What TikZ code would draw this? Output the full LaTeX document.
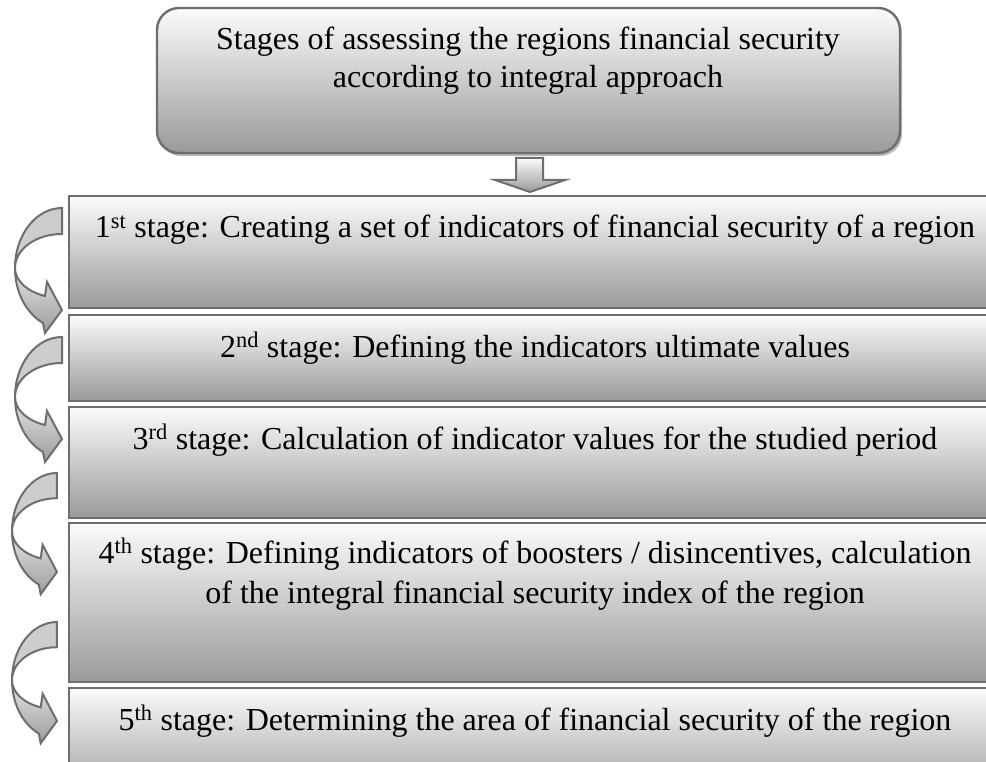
\documentclass[tikz,border=0pt]{standalone}
\usepackage{fontspec}
\setmainfont{Liberation Serif}
\usetikzlibrary{calc}
\definecolor{bdc}{HTML}{6E6E6E}
\definecolor{gFA}{HTML}{FBFBFB}
\definecolor{gD0}{HTML}{D2D2D2}
\definecolor{g9A}{HTML}{9A9A9A}
\definecolor{gCF}{HTML}{CDCDCD}
\definecolor{gE8}{HTML}{E6E6E6}
\definecolor{g9C}{HTML}{9C9C9C}
\definecolor{gSh}{HTML}{B8B8B8}
\begin{document}
\begin{tikzpicture}[x=1pt,y=-1pt,
  bd/.style={draw=bdc, line width=2.4pt},
  stagebox/.style={bd, rectangle, anchor=north west, outer sep=0pt, inner sep=0pt,
    minimum width=932pt, top color=gFA, middle color=gD0, bottom color=g9A},
  titlebox/.style={bd, rectangle, rounded corners=22pt, anchor=north west, outer sep=0pt, inner sep=0pt,
    minimum width=743pt, minimum height=145pt, top color=gFA, middle color=gD0, bottom color=g9A},
  stagetext/.style={anchor=base, inner sep=0pt, align=center,
    font=\fontsize{32}{40}\selectfont},
  arrline/.style={draw=bdc, line width=2pt, line join=miter},
  curvarrow/.pic={
    \draw[arrline, fill=gCF] (47,0) .. controls (21,0) and (0,27) .. (0,60)
      .. controls (0,41.2) and (21,26) .. (47,26) -- cycle;
    \draw[arrline, top color=gE8, bottom color=g9C] (0,60)
      .. controls (0,72.4) and (12,83.6) .. (30,88) -- (32,74) -- (47,102)
      -- (30,125) -- (28,115) .. controls (11,105) and (0,84) .. (0,60) -- cycle;
  }]
\useasboundingbox (0,0) rectangle (986,762);
\clip (0,0) rectangle (986,762);

% title box with shadow
\fill[gSh, rounded corners=22pt] (159,11) rectangle (902,156);
\node[titlebox] (top) at (157,8) {};
\node[stagetext, font=\fontsize{32}{38}\selectfont] (title) at (528,88) {Stages of assessing the regions financial security\\according to integral approach};

% down block arrow
\coordinate (dtop) at (530,158);
\draw[arrline, top color=gFA, bottom color=g9A]
  ($(dtop)+(-14,0)$) -- ($(dtop)+(13,0)$) -- ($(dtop)+(13,22)$) -- ($(dtop)+(35,22)$)
  -- ($(dtop)+(0,34)$) -- ($(dtop)+(-35,22)$) -- ($(dtop)+(-14,22)$) -- cycle;

% stage boxes
\node[stagebox, minimum height=112pt] (s1) at (69,196) {};
\node[stagebox, minimum height=86pt]  (s2) at (69,315) {};
\node[stagebox, minimum height=111pt] (s3) at (69,407) {};
\node[stagebox, minimum height=159pt] (s4) at (69,523) {};
\node[stagebox, minimum height=112pt] (s5) at (69,688) {};

\node[stagetext] (t1) at (535,238) {1\textsuperscript{st} stage: Creating a set of indicators of financial security of a region};
\node[stagetext] (t2) at (535,357) {2\textsuperscript{nd} stage: Defining the indicators ultimate values};
\node[stagetext] (t3) at (535,449) {3\textsuperscript{rd} stage: Calculation of indicator values for the studied period};
\node[stagetext] (t4) at (535,603) {4\textsuperscript{th} stage: Defining indicators of boosters / disincentives, calculation\\of the integral financial security index of the region};
\node[stagetext] (t5) at (535,730) {5\textsuperscript{th} stage: Determining the area of financial security of the region};

% curved arrows
\pic at (15,208) {curvarrow};
\pic at (15,337) {curvarrow};
\pic[xscale=0.957, yscale=0.97] at (12,473) {curvarrow};
\pic[xscale=0.957, yscale=0.97] at (12,622) {curvarrow};
\end{tikzpicture}
\end{document}
